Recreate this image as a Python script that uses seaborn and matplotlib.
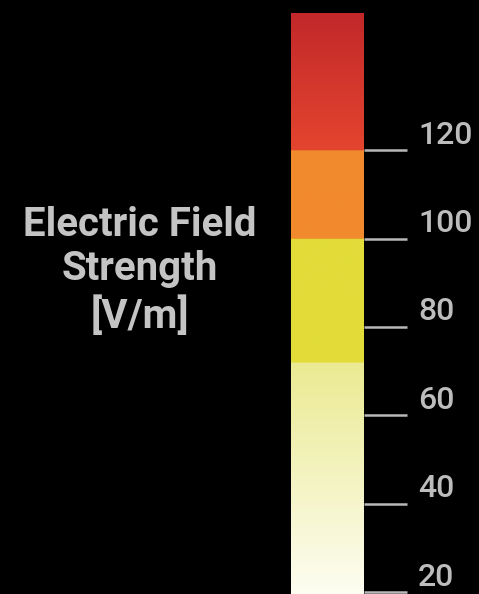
#!/usr/bin/env python3.12
# coding=utf-8

from matplotlib import pyplot as plt
from matplotlib.colors import LinearSegmentedColormap
from matplotlib.transforms import ScaledTranslation
import seaborn as sns
import numpy as np

# Scale of the colour bar [V/m]
tick_values = [20, 40, 60, 80, 100, 120]
field_min = 19.6
field_max = 151

# Colour stops (value, colour) - repeated values give hard steps
stop_values = [19.6, 72, 72, 100, 100, 120, 120, 151]
stop_colors = ['#fdfdf2', '#ebea92', '#e2dc38', '#e3dc3a',
               '#f28a2c', '#f08a2e', '#e4452f', '#c2282a']

label_text = 'Electric Field\nStrength\n[V/m]'

sns.set_theme(style='dark', rc={'axes.facecolor': 'black', 'figure.facecolor': 'black'})
plt.rcParams['font.family'] = ['Roboto', 'DejaVu Sans']

fig = plt.figure(figsize=(4.79, 5.94), dpi=100)
ax = fig.add_axes([291 / 479, 0.0, 73 / 479, 581 / 594])

# Build the colormap from the stops
positions = [(v - field_min) / (field_max - field_min) for v in stop_values]
cmap = LinearSegmentedColormap.from_list('efield', list(zip(positions, stop_colors)), N=1024)

gradient = np.linspace(field_min, field_max, 1024).reshape(-1, 1)
ax.imshow(gradient, cmap=cmap, vmin=field_min, vmax=field_max, origin='lower',
          extent=[0, 1, field_min, field_max], aspect='auto', interpolation='bilinear')

ax.set_xlim(0, 1)
ax.set_ylim(field_min, field_max)
ax.set_xticks([])
ax.set_yticks(tick_values)
ax.yaxis.tick_right()
ax.tick_params(axis='y', which='major', direction='out', length=31, width=1.8,
               color='#b8b8b8', pad=8, labelsize=23, labelcolor='#bdbdbd',
               left=False, right=True)
for spine in ax.spines.values():
    spine.set_visible(False)

# Labels sit a bit above their tick marks
offset = ScaledTranslation(0, 13 / 72, fig.dpi_scale_trans)
for lab in ax.get_yticklabels():
    lab.set_transform(lab.get_transform() + offset)
    lab.set_fontweight('medium')

fig.text(140 / 479, 1 - 271 / 594, label_text, ha='center', va='center',
         fontsize=29, fontweight='bold', color='#c4c4c4', linespacing=1.2)

fig.savefig('out.png', dpi=100, facecolor='black')
